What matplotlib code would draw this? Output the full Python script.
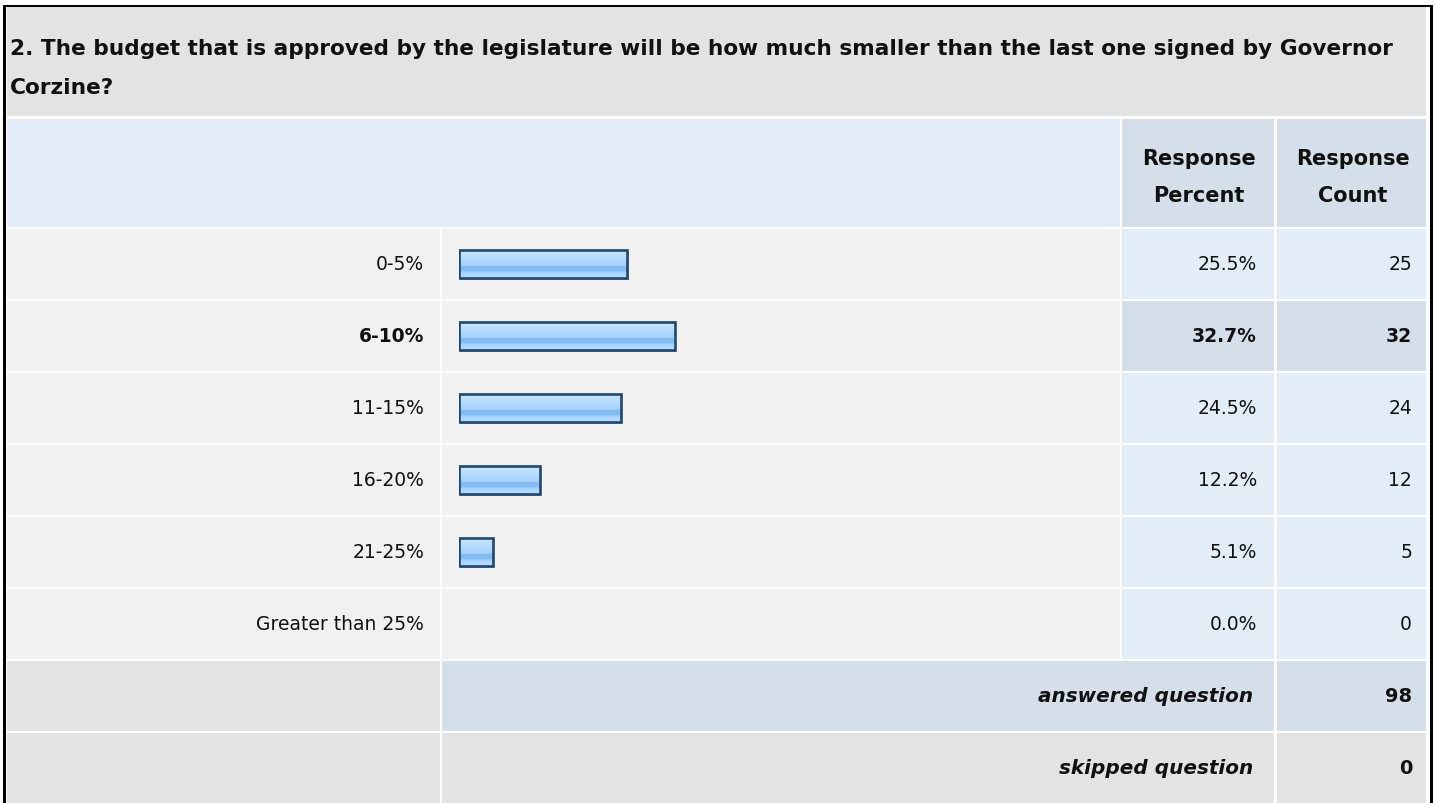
import numpy as np
import matplotlib
matplotlib.use("Agg")
import matplotlib.pyplot as plt
from matplotlib.patches import Rectangle
from matplotlib.colors import to_rgb

plt.rcParams['font.family'] = ['DejaVu Sans']

# DATA
title = ("2. The budget that is approved by the legislature will be how much smaller than the last one signed by Governor\n"
         "Corzine?")
categories = ["0-5%", "6-10%", "11-15%", "16-20%", "21-25%", "Greater than 25%"]
percents = [25.5, 32.7, 24.5, 12.2, 5.1, 0.0]
counts = [25, 32, 24, 12, 5, 0]
col_headers = ["Response\nPercent", "Response\nCount"]
summary_labels = ["answered question", "skipped question"]
summary_values = [98, 0]

# LAYOUT (pixels)
W, H = 1435, 804
LBL = (7, 440)
BARCOL = (442, 1120)
PCT = (1122, 1274)
CNT = (1277, 1426)
ROW0, ROWSTEP, ROWH = 230, 72, 70

GRAY = "#e3e3e3"
LIGHT = "#f1f1f1"
BLUE_HDR = "#e2ecf6"
BLUE_CELL = "#e2edf8"
BLUE_DARK = "#d5dfe9"
TXT = "#111111"
FS = 13.5

fig = plt.figure(figsize=(W / 100, H / 100), dpi=100)
ax = fig.add_axes([0, 0, 1, 1])
ax.set_xlim(0, W)
ax.set_ylim(H, 0)
ax.axis("off")


def cell(x0, x1, y0, y1, color):
    ax.add_patch(Rectangle((x0, y0), x1 - x0, y1 - y0, facecolor=color, edgecolor="none", zorder=1))


# outer border
ax.add_patch(Rectangle((2.5, 6), 3.5, H, facecolor="black", edgecolor="none", zorder=3))
ax.add_patch(Rectangle((2.5, 6), 1430.5 - 2.5, 2, facecolor="black", edgecolor="none", zorder=3))
ax.add_patch(Rectangle((1429.5, 6), 3, H, facecolor="black", edgecolor="none", zorder=3))

# title block
cell(7, CNT[1], 8, 117, GRAY)
t1, t2 = title.split("\n")
ax.text(10, 49, t1, fontsize=15.6, fontweight="bold", color=TXT, va="center", ha="left")
ax.text(10, 88, t2, fontsize=15.6, fontweight="bold", color=TXT, va="center", ha="left")

# column header row
cell(LBL[0], BARCOL[1], 120, 228, BLUE_HDR)
for (x0, x1), lab in zip([PCT, CNT], col_headers):
    cell(x0, x1, 120, 228, BLUE_DARK)
    l1, l2 = lab.split("\n")
    ax.text((x0 + x1) / 2 + 1, 159, l1, fontsize=15, fontweight="bold", color=TXT, ha="center", va="center")
    ax.text((x0 + x1) / 2 + 1, 196, l2, fontsize=15, fontweight="bold", color=TXT, ha="center", va="center")

# data rows
top_i = int(np.argmax(percents))
row_centers = []
for i, (cat, p, c) in enumerate(zip(categories, percents, counts)):
    y0 = ROW0 + ROWSTEP * i
    y1 = y0 + ROWH
    yc = (y0 + y1) / 2
    row_centers.append(yc)
    hi = (i == top_i)
    cell(LBL[0], LBL[1], y0, y1, LIGHT)
    cell(BARCOL[0], BARCOL[1], y0, y1, LIGHT)
    cell(PCT[0], PCT[1], y0, y1, BLUE_DARK if hi else BLUE_CELL)
    cell(CNT[0], CNT[1], y0, y1, BLUE_DARK if hi else BLUE_CELL)
    w = "bold" if hi else "normal"
    ax.text(424, yc, cat, fontsize=FS, fontweight=w, color=TXT, ha="right", va="center")
    ax.text(1257, yc, f"{p:.1f}%", fontsize=FS, fontweight=w, color=TXT, ha="right", va="center")
    ax.text(1412, yc, f"{c}", fontsize=FS, fontweight=w, color=TXT, ha="right", va="center")

# summary rows
for j, (lab, v) in enumerate(zip(summary_labels, summary_values)):
    y0 = ROW0 + ROWSTEP * (len(categories) + j)
    y1 = y0 + ROWH
    yc = (y0 + y1) / 2
    mid = BLUE_DARK if j == 0 else GRAY
    cell(LBL[0], LBL[1], y0, y1, GRAY)
    cell(BARCOL[0], PCT[1], y0, y1, mid)
    cell(CNT[0], CNT[1], y0, y1, mid)
    ax.text(1253, yc, lab, fontsize=14.4, fontweight="bold", fontstyle="italic", color=TXT, ha="right", va="center")
    ax.text(1412, yc, f"{v}", fontsize=14, fontweight="bold", color=TXT, ha="right", va="center")

# bars: separate axes whose x axis is percent (0-100 over 660 px)
bax = fig.add_axes([459 / W, 0, 660 / W, 1])
bax.set_xlim(0, 100)
bax.set_ylim(H, 0)
bax.axis("off")
bax.patch.set_alpha(0)

stops = [(0.00, "#d8eeff"), (0.10, "#c2e3ff"), (0.30, "#b3daff"), (0.55, "#a6d2fd"),
         (0.58, "#84bbf2"), (0.75, "#84bbf2"), (0.79, "#a3d0fc"), (1.00, "#b8ddff")]
n = 60
fr = np.linspace(0, 1, n)
grad = np.zeros((n, 1, 3))
for k in range(3):
    grad[:, 0, k] = np.interp(fr, [s[0] for s in stops], [to_rgb(s[1])[k] for s in stops])

BH = 28
for yc, p in zip(row_centers, percents):
    if p <= 0:
        continue
    bax.barh(yc + 1.5, p, height=BH, left=0.25, color="#9fb2c8", edgecolor="none", zorder=1)
    bax.imshow(grad, extent=(0, p, yc + BH / 2, yc - BH / 2), aspect="auto",
               interpolation="bilinear", zorder=2)
    bax.barh(yc, p, height=BH, fill=False, edgecolor="#22476f", linewidth=1.9, zorder=3)
bax.set_xlim(0, 100)
bax.set_ylim(H, 0)

fig.savefig("out.png", dpi=100, facecolor="white")
